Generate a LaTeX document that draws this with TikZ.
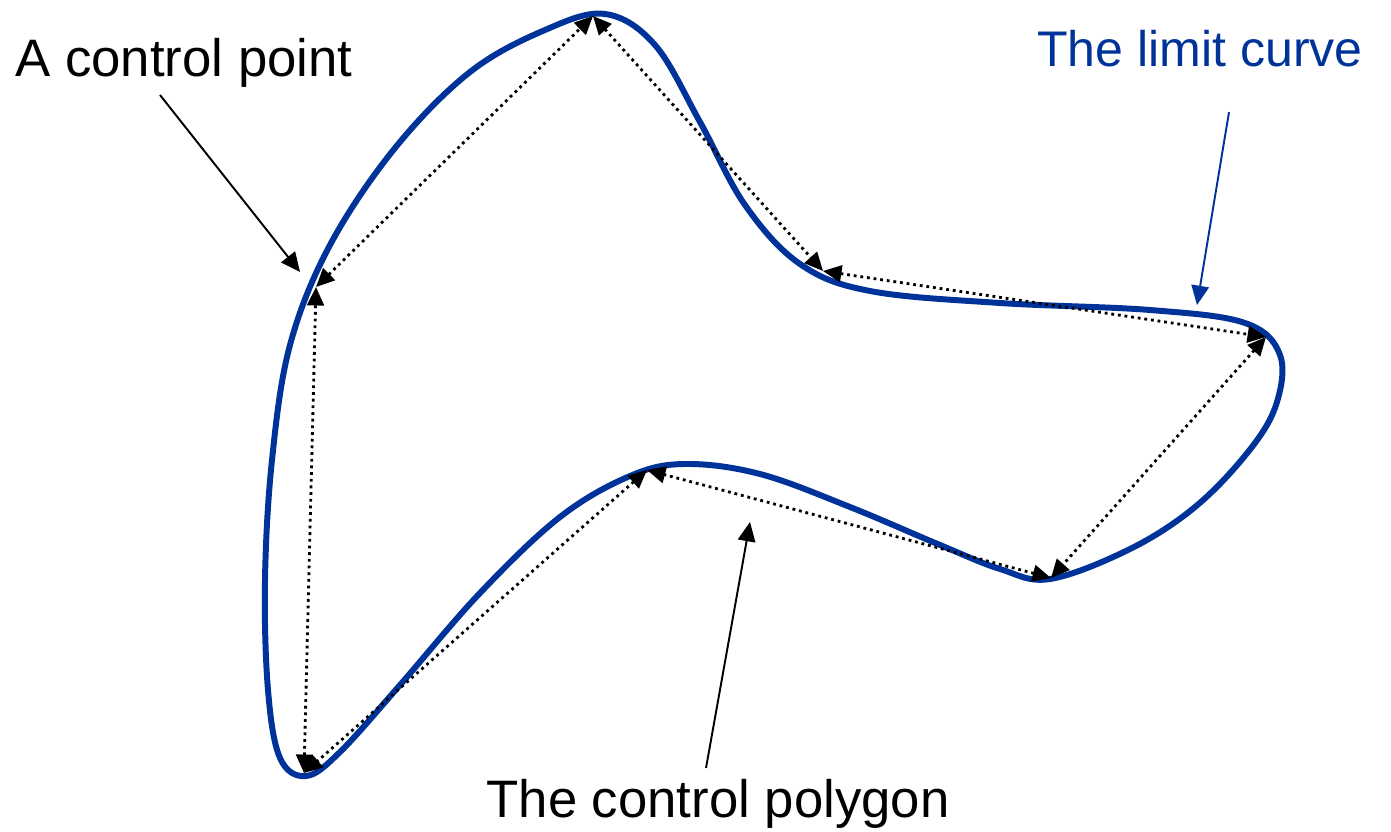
\documentclass[tikz,border=0pt]{standalone}
\usepackage{fontspec}
\setmainfont{Liberation Sans}
\usetikzlibrary{arrows.meta}
\definecolor{curveblue}{RGB}{0,51,153}
\tikzset{
  lbl/.style={inner sep=0pt, anchor=base, font=\fontsize{30}{36}\selectfont},
  limitcurve/.style={draw=curveblue, line width=3.4pt, line join=round},
  polyedge/.style={line width=1.6pt, dash pattern=on 1.6pt off 2.2pt,
    {Triangle[length=10.5pt,width=9.5pt]}-{Triangle[length=10.5pt,width=9.5pt]}},
  pointer/.style={line width=1.1pt, -{Triangle[length=11pt,width=10pt]}}
}
\begin{document}
\begin{tikzpicture}[x=0.02cm,y=-0.02cm]
\useasboundingbox (0,0) rectangle (1391,831);
% control points
\coordinate (P1) at (593,16);
\coordinate (P2) at (823,271);
\coordinate (P3) at (1266,337);
\coordinate (P4) at (1051,578);
\coordinate (P5) at (647,470);
\coordinate (P6) at (304,773);
\coordinate (P7) at (316,287);
% limit curve
\draw[limitcurve] plot[smooth cycle, tension=0.6] coordinates {
 (605,14) (655,45) (700,122) (745,205) (800,264) (870,291) (1000,303)
 (1150,310) (1245,323) (1280,355) (1276,405) (1248,452) (1195,507)
 (1130,549) (1050,579) (1000,569) (940,545) (850,507) (760,474) (685,464) (630,476)
 (560,517) (480,593) (400,685) (340,752) (306,776) (280,758) (268,690)
 (265,580) (272,460) (290,345) (330,245) (395,148) (470,72) (545,30)};
% control polygon
\draw[polyedge] (P1) -- (P2);
\draw[polyedge] (P2) -- (P3);
\draw[polyedge] (P3) -- (P4);
\draw[polyedge] (P4) -- (P5);
\draw[polyedge] (P5) -- (P6);
\draw[polyedge] (P6) -- (P7);
\draw[polyedge] (P7) -- (P1);
% labels
\node[lbl] (cp) at (184,77) {A control point};
\node[lbl, text=curveblue, font=\fontsize{28.5}{34}\selectfont] (lc) at (1200,67) {The limit curve};
\node[lbl] (poly) at (718,817) {The control polygon};
% pointers
\coordinate (cpS) at (160,95);
\coordinate (cpE) at (300,272);
\coordinate (lcS) at (1229,112);
\coordinate (lcE) at (1197,305);
\coordinate (pS) at (706,768);
\coordinate (pE) at (750,522);
\draw[pointer] (cpS) -- (cpE);
\draw[pointer, draw=curveblue, fill=curveblue] (lcS) -- (lcE);
\draw[pointer] (pS) -- (pE);
\end{tikzpicture}
\end{document}
